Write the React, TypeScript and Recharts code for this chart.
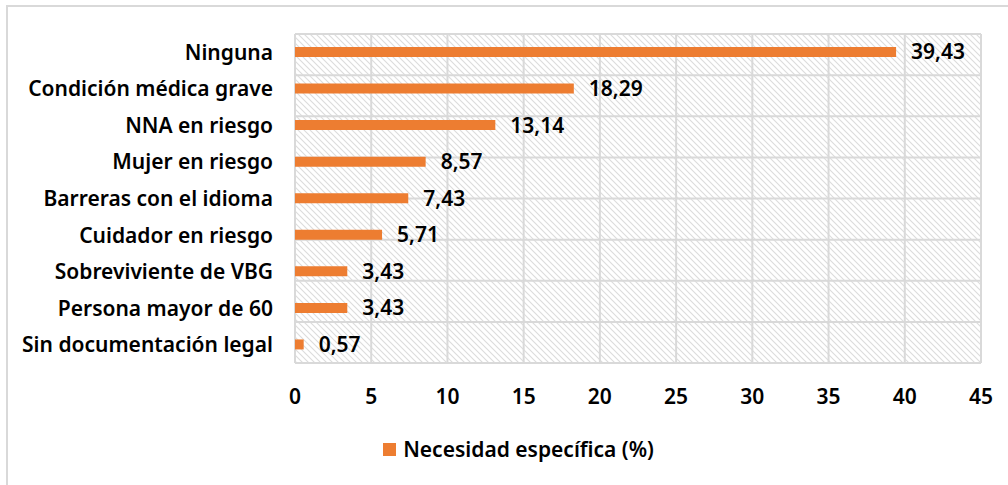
import React from 'react';
import {
    BarChart, Bar, XAxis, YAxis, CartesianGrid, LabelList, Legend
} from 'recharts';

const categories = [
    'Ninguna',
    'Condición médica grave',
    'NNA en riesgo',
    'Mujer en riesgo',
    'Barreras con el idioma',
    'Cuidador en riesgo',
    'Sobreviviente de VBG',
    'Persona mayor de 60',
    'Sin documentación legal',
];
const values = [39.43, 18.29, 13.14, 8.57, 7.43, 5.71, 3.43, 3.43, 0.57];
const xTicks = [0, 5, 10, 15, 20, 25, 30, 35, 40, 45];
const bandEdges = [0, 1, 2, 3, 4, 5, 6, 7, 8, 9];
const seriesName = 'Necesidad específica (%)';

const ORANGE = '#ED7D31';
const GRID = '#d9d9d9';
const FONT = '"Noto Sans", sans-serif';
const FS = 21;

const data = categories.map((name, i) => ({ name, value: values[i] }));

const fmt = (v: any) => Number(v).toFixed(2).replace('.', ',');

function LegendBox() {
    return (
        <div style={{ display: 'flex', justifyContent: 'center', alignItems: 'center', paddingTop: 12, paddingLeft: 56, fontFamily: FONT, fontSize: FS, fontWeight: 600, color: '#000' }}>
            <span style={{ width: 13, height: 13, background: ORANGE, display: 'inline-block', marginRight: 7 }} />
            <span>{seriesName}</span>
        </div>
    );
}

export default function App() {
    return (
        <div>
            <style>{`body{margin:0;overflow:hidden;background:#fff}`}</style>
            <div style={{ position: 'absolute', left: 6, top: 5, width: 1010, height: 490, borderLeft: `2px solid ${GRID}`, borderTop: `2px solid ${GRID}` }} />
            <div style={{ position: 'absolute', left: 0, top: 0 }}>
                <BarChart
                    width={1008}
                    height={485}
                    data={data}
                    layout="vertical"
                    margin={{ top: 34, right: 27, bottom: 22, left: 0 }}
                    barSize={10}
                >
                    <defs>
                        <pattern id="hatch" width="6" height="6" patternUnits="userSpaceOnUse">
                            <rect width="6" height="6" fill="#fff" />
                            <path d="M-1,-1 L7,7 M-4,2 L1,7 M2,-4 L7,1" stroke="#dcdcdc" strokeWidth="1.1" />
                        </pattern>
                    </defs>
                    <CartesianGrid yAxisId="edges" stroke={GRID} strokeWidth={2} fill="url(#hatch)" fillOpacity={1} />
                    <XAxis
                        type="number"
                        domain={[0, 45]}
                        ticks={xTicks}
                        interval={0}
                        height={60}
                        axisLine={{ stroke: GRID, strokeWidth: 2 }}
                        tickLine={false}
                        tickMargin={20}
                        tick={{ fontFamily: FONT, fontSize: FS, fontWeight: 600, fill: '#000' }}
                    />
                    <YAxis
                        yAxisId="edges"
                        type="number"
                        domain={[0, 9]}
                        ticks={bandEdges}
                        interval={0}
                        reversed
                        width={0}
                        tickSize={7}
                        tickFormatter={() => ''}
                        axisLine={{ stroke: GRID, strokeWidth: 2 }}
                        tickLine={{ stroke: GRID, strokeWidth: 2 }}
                    />
                    <YAxis
                        type="category"
                        dataKey="name"
                        width={295}
                        axisLine={false}
                        tickLine={false}
                        tickSize={0}
                        tickMargin={22}
                        interval={0}
                        tick={{ fontFamily: FONT, fontSize: FS, fontWeight: 600, fill: '#000' }}
                    />
                    <Legend verticalAlign="bottom" height={40} content={() => <LegendBox />} />
                    <Bar dataKey="value" name={seriesName} fill={ORANGE} isAnimationActive={false}>
                        <LabelList
                            dataKey="value"
                            position="right"
                            offset={15}
                            formatter={fmt}
                            style={{ fontFamily: FONT, fontSize: FS, fontWeight: 600, fill: '#000' }}
                        />
                    </Bar>
                </BarChart>
            </div>
        </div>
    );
}
